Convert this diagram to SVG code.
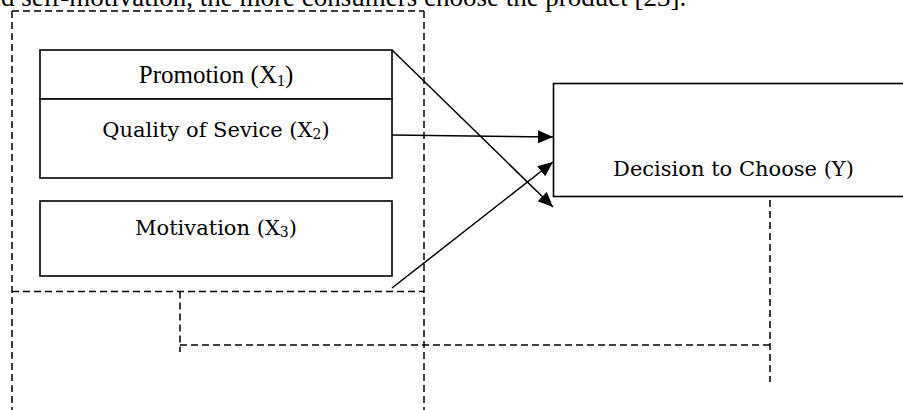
<svg xmlns="http://www.w3.org/2000/svg" width="903" height="410" viewBox="0 0 903 410">
  <style>
    .box { fill: #ffffff; stroke: #000000; stroke-width: 1.6; }
    .dash { fill: none; stroke: #000000; stroke-width: 1.5; stroke-dasharray: 7 4; }
    .conn { fill: none; stroke: #000000; stroke-width: 1.5; }
    .t1 { font-family: "Liberation Serif", "Times New Roman", serif; font-size: 25px; fill: #000; }
    .t2 { font-family: "DejaVu Serif", serif; font-size: 21px; fill: #000; }
    .top { font-family: "Liberation Serif", "Times New Roman", serif; font-size: 27px; fill: #000; }
  </style>
  <defs>
    <marker id="arrow" markerUnits="userSpaceOnUse" markerWidth="16" markerHeight="14" refX="15" refY="6.5" orient="auto">
      <path d="M0,0 L15,6.5 L0,13 Z" fill="#000000"/>
    </marker>
  </defs>
  <rect width="903" height="410" fill="#ffffff"/>

  <text class="top" x="1" y="6">d self-motivation, the more consumers choose the product [23].</text>

  <g id="dashed-frame">
    <line class="dash" x1="12" y1="11" x2="424" y2="11"/>
    <line class="dash" x1="12" y1="11" x2="12" y2="410"/>
    <line class="dash" x1="424" y1="11" x2="424" y2="410"/>
    <line class="dash" x1="12" y1="291.5" x2="424" y2="291.5"/>
    <line class="dash" x1="180" y1="291.5" x2="180" y2="352"/>
    <line class="dash" x1="180" y1="345" x2="770" y2="345"/>
    <line class="dash" x1="770" y1="178" x2="770" y2="382"/>
  </g>

  <g id="node-promotion">
    <rect class="box" x="40" y="50" width="352" height="49"/>
    <text class="t1" x="216" y="83" text-anchor="middle">Promotion (X<tspan font-size="16" dy="3">1</tspan><tspan dy="-3">)</tspan></text>
  </g>
  <g id="node-quality">
    <rect class="box" x="40" y="99" width="352" height="79"/>
    <text class="t2" x="216" y="137" text-anchor="middle">Quality of Sevice (X<tspan font-size="14" dy="2">2</tspan><tspan dy="-2">)</tspan></text>
  </g>
  <g id="node-motivation">
    <rect class="box" x="40" y="201" width="352" height="75"/>
    <text class="t2" x="216" y="235" text-anchor="middle">Motivation (X<tspan font-size="14" dy="2">3</tspan><tspan dy="-2">)</tspan></text>
  </g>
  <g id="node-decision">
    <rect class="box" x="553.5" y="83.5" width="360" height="113"/>
    <text class="t2" x="733.5" y="176" text-anchor="middle">Decision to Choose (Y)</text>
  </g>

  <g id="connectors">
    <line class="conn" x1="392" y1="50" x2="553" y2="207" marker-end="url(#arrow)"/>
    <line class="conn" x1="392" y1="135" x2="553" y2="137" marker-end="url(#arrow)"/>
    <line class="conn" x1="392" y1="288" x2="553" y2="162" marker-end="url(#arrow)"/>
  </g>
</svg>
